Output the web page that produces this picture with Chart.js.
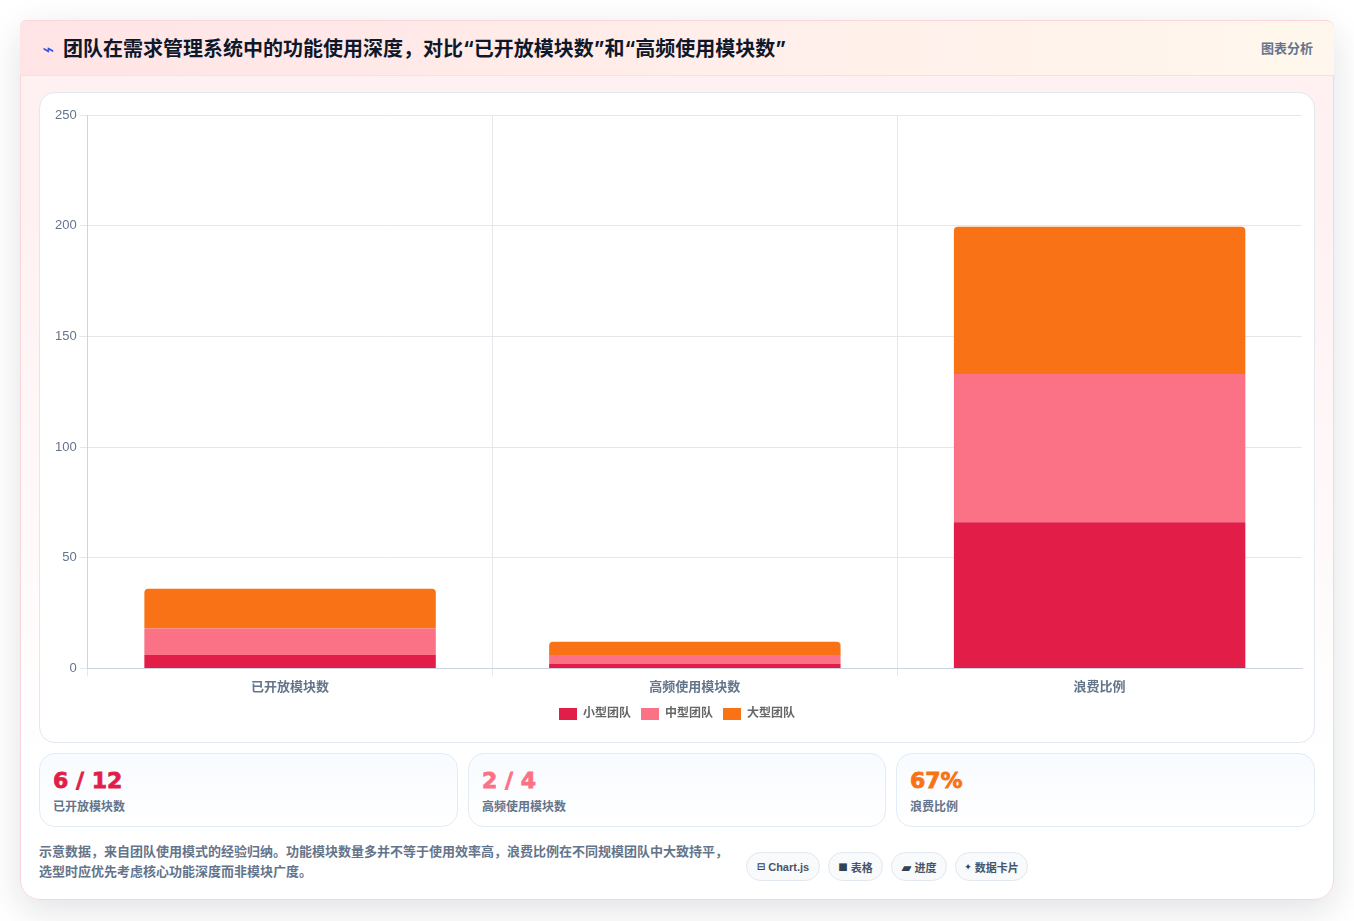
<!DOCTYPE html>
<html lang="zh-CN"><head><meta charset="utf-8">
<script src="https://cdn.jsdelivr.net/npm/chart.js@4/dist/chart.umd.min.js"></script>
<style>
*{box-sizing:border-box;margin:0;padding:0}
html,body{width:1354px;height:921px;overflow:hidden;background:#fff;font-family:"Liberation Sans","Noto Sans CJK SC",sans-serif}
.card{position:absolute;left:20px;top:20px;width:1314px;height:880px;border:1px solid #fbd5d9;border-radius:20px;background:linear-gradient(180deg,#fff1f2 0%,#fff1f2 20%,#ffffff 85%);box-shadow:0 10px 36px rgba(15,23,42,.13)}
.head{height:56px;margin:-1px -1px 0;width:1314px;border-radius:6px 8px 0 0;background:linear-gradient(90deg,#ffe4e6,#fff7ed);border-top:1px solid #fbd5d9;border-bottom:1px solid #e7e5ee;display:flex;align-items:center;justify-content:space-between;padding:0 21px 0 21px}
h1{font-family:"Inter","Noto Sans CJK SC",sans-serif;font-size:20px;font-weight:700;color:#0f172a;line-height:1;display:flex;align-items:center;position:relative;top:1px}
h1 i{font-style:normal;color:#3350e6;font-size:20px;margin-right:7px;width:15px;font-weight:400;font-family:"DejaVu Sans";text-align:center}
.tag{font-size:13px;font-weight:700;color:#64748b;position:relative;top:-1px}
.box{position:absolute;left:18px;top:71px;width:1276px;height:651px;background:#fff;border:1px solid #e2e8f0;border-radius:16px}
#c{position:absolute;left:0;top:0}
.stat{position:absolute;top:732px;height:74px;border:1px solid #e2ecf5;border-radius:16px;background:linear-gradient(180deg,#f8fbff,#fff);padding:11px 13px}
.stat b{display:block;font-family:"DejaVu Sans",sans-serif;font-weight:700;font-size:22px;line-height:32px;-webkit-text-stroke:.8px currentColor}
.stat span{display:block;font-size:12px;font-weight:700;color:#64748b;line-height:18px;margin-top:1px}
.note{position:absolute;left:18px;top:821px;width:700px;font-size:13px;font-weight:700;line-height:20px;color:#64748b}
.chips{position:absolute;left:725px;top:831px;display:flex;gap:8px}
.chip{height:29px;border:1px solid #e2e8f0;border-radius:15px;background:#f8fafc;font-size:11px;font-weight:700;color:#475569;display:flex;align-items:center;justify-content:center;gap:3px}
.chip em{font-style:normal;font-family:"DejaVu Sans";font-size:10px;color:#334155}
</style></head><body>
<div class="card">
 <div class="head"><h1><i>⌁</i>团队在需求管理系统中的功能使用深度，对比“已开放模块数”和“高频使用模块数”</h1><div class="tag">图表分析</div></div>
 <div class="box"><canvas id="c" width="1274" height="649"></canvas></div>
 <div class="stat" style="left:18px;width:419px"><b style="color:#e11d48">6 / 12</b><span>已开放模块数</span></div>
 <div class="stat" style="left:447px;width:418px"><b style="color:#fb7185">2 / 4</b><span>高频使用模块数</span></div>
 <div class="stat" style="left:875px;width:419px"><b style="color:#f97316">67%</b><span>浪费比例</span></div>
 <div class="note">示意数据，来自团队使用模式的经验归纳。功能模块数量多并不等于使用效率高，浪费比例在不同规模团队中大致持平，<br>选型时应优先考虑核心功能深度而非模块广度。</div>
 <div class="chips"><div class="chip" style="width:74px"><em>⊟</em>Chart.js</div><div class="chip" style="width:55px"><em>■</em>表格</div><div class="chip" style="width:56px"><em style="font-size:13px;margin-top:1px">▰</em>进度</div><div class="chip" style="width:73px"><em style="font-size:9px">✦</em>数据卡片</div></div>
</div>
<script>
const categories=["已开放模块数","高频使用模块数","浪费比例"];
const small=[6,2,66];
const medium=[12,4,67];
const large=[18,6,66.5];
const yTicks=[0,50,100,150,200,250];
const font={family:'"Liberation Sans","Noto Sans CJK SC",sans-serif',size:12};
new Chart(document.getElementById('c'),{type:'bar',data:{labels:categories,datasets:[
 {label:'小型团队',data:small,backgroundColor:'#e11d48',stack:'s'},
 {label:'中型团队',data:medium,backgroundColor:'#fb7185',stack:'s'},
 {label:'大型团队',data:large,backgroundColor:'#f97316',stack:'s',borderRadius:{topLeft:4,topRight:4}}
]},options:{responsive:false,animation:false,
 layout:{padding:{left:12,right:12,top:22,bottom:12}},
 categoryPercentage:1,barPercentage:.72,
 plugins:{legend:{position:'bottom',labels:{boxWidth:18,boxHeight:12,padding:10,color:'#666666',font:{...font,weight:'600'}}},tooltip:{enabled:false}},
 scales:{x:{stacked:true,grid:{color:c=>c.tick?'#e5e7eb':'transparent'},border:{color:'#cbd5e1'},ticks:{color:'#64748b',font:{...font,size:13,weight:'600'}}},
 y:{stacked:true,min:0,max:250,afterBuildTicks(a){a.ticks=yTicks.map(v=>({value:v}))},grid:{color:'#e5e7eb'},border:{color:'#cbd5e1'},ticks:{color:'#64748b',font:{...font,size:13}}}}
}});
</script></body></html>
